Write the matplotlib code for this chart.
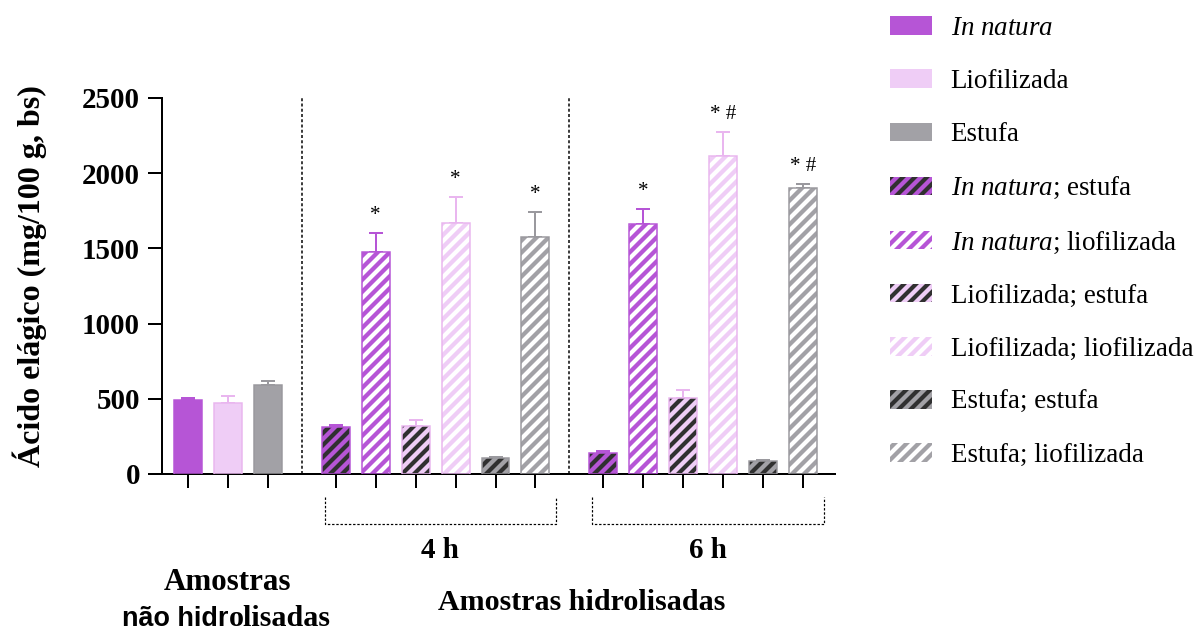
import matplotlib
matplotlib.use("Agg")
import matplotlib.pyplot as plt
from matplotlib.patches import Patch
import numpy as np

plt.rcParams["font.family"] = "Liberation Serif"
plt.rcParams["mathtext.fontset"] = "custom"
plt.rcParams["mathtext.rm"] = "Liberation Serif"
plt.rcParams["mathtext.it"] = "Liberation Serif:italic"
plt.rcParams["hatch.linewidth"] = 4.2

PURPLE = "#B655D6"
PINK = "#EFCDF6"
GRAY = "#A2A1A6"
DARK = "#303030"

# Amostras não hidrolisadas
raw_labels = [r"$\it{In\ natura}$", "Liofilizada", "Estufa"]
raw_mean = [492, 472, 592]
raw_sd = [15, 45, 26]

# Amostras hidrolisadas (secagem; hidrólise)
hyd_labels = [r"$\it{In\ natura}$; estufa", r"$\it{In\ natura}$; liofilizada",
              "Liofilizada; estufa", "Liofilizada; liofilizada",
              "Estufa; estufa", "Estufa; liofilizada"]
mean_4h = [315, 1478, 319, 1667, 108, 1574]
sd_4h = [13, 126, 38, 177, 7, 168]
sig_4h = ["", "*", "", "*", "", "*"]
mean_6h = [137, 1662, 503, 2114, 86, 1904]
sd_6h = [16, 100, 57, 162, 4, 26]
sig_6h = ["", "*", "", "* #", "", "* #"]
group_labels = ["4 h", "6 h"]

raw_face = [PURPLE, PINK, GRAY]
raw_edge = [PURPLE, "#E9B6EF", "#9A999E"]
hyd_face = [PURPLE, PURPLE, PINK, PINK, GRAY, GRAY]
hyd_edge = [PURPLE, PURPLE, "#E9B6EF", "#E9B6EF", "#9A999E", "#9A999E"]
hyd_hatch = [DARK, "white", DARK, "white", DARK, "white"]

W = 0.7
x_raw = np.arange(3)
x_4h = 3.7 + np.arange(6)
x_6h = 10.4 + np.arange(6)

fig = plt.figure(figsize=(1200 / 72, 632 / 72), dpi=72)
ax = fig.add_axes([162 / 1200, 1 - 474 / 632, (835 - 162) / 1200, 376 / 632])


def draw_bars(x, mean, sd, face, edge, hatch=None):
    for xi, m, s, fc, ec, hc in zip(x, mean, sd, face, edge, hatch or [None] * len(x)):
        ax.errorbar(xi, m, yerr=[[0], [s]], fmt="none", ecolor=ec, elinewidth=2,
                    capsize=7, capthick=2, zorder=1)
        if hc is None:
            ax.bar(xi, m, W, color=fc, lw=0, zorder=2)
        else:
            ax.bar(xi, m, W, facecolor=fc, edgecolor=hc, hatch="//", lw=0, zorder=2)
        ax.bar(xi, m, W, fill=False, edgecolor=ec, lw=1.5, zorder=3)


draw_bars(x_raw, raw_mean, raw_sd, raw_face, raw_edge)
draw_bars(x_4h, mean_4h, sd_4h, hyd_face, hyd_edge, hyd_hatch)
draw_bars(x_6h, mean_6h, sd_6h, hyd_face, hyd_edge, hyd_hatch)

for x, mean, sd, sig in [(x_4h, mean_4h, sd_4h, sig_4h), (x_6h, mean_6h, sd_6h, sig_6h)]:
    for xi, m, s, t in zip(x, mean, sd, sig):
        if t:
            ax.text(xi, m + s + 50, t, ha="center", va="bottom", fontsize=21, clip_on=False)

# separators between groups
for xv in [(x_raw[-1] + x_4h[0]) / 2, (x_4h[-1] + x_6h[0]) / 2]:
    ax.axvline(xv, ymin=0, ymax=1.004, color="black", lw=1.5, ls=(0, (2, 1.5)), clip_on=False)

ax.set_xlim(-0.65, 16.2)
ax.set_ylim(0, 2500)
ax.set_yticks(np.arange(0, 2501, 500))
ax.set_yticklabels([str(v) for v in range(0, 2501, 500)], fontsize=29, fontweight="bold")
ax.set_xticks(np.concatenate([x_raw, x_4h, x_6h]))
ax.set_xticklabels([])
ax.tick_params(axis="both", direction="out", length=14, width=2, color="black")
ax.tick_params(axis="y", pad=8)
for side in ["top", "right"]:
    ax.spines[side].set_visible(False)
for side in ["left", "bottom"]:
    ax.spines[side].set_linewidth(2)

# dashed brackets under the hydrolysed groups
tr = ax.get_xaxis_transform()
y_top, y_bot = -23 / 376, -50 / 376
for x, lab in zip([x_4h, x_6h], group_labels):
    x0, x1 = x[0] - 0.28, x[-1] + 0.52
    ax.plot([x0, x0, x1, x1], [y_top, y_bot, y_bot, y_top], transform=tr, color="black",
            lw=1.2, ls=(0, (2, 1.5)), clip_on=False)
    ax.text((x0 + x1) / 2, -77 / 376, lab, transform=tr, ha="center", va="center",
            fontsize=29, fontweight="bold")

ax.text(9.87, -129 / 376, "Amostras hidrolisadas", transform=tr, ha="center", va="center",
        fontsize=30, fontweight="bold")
ax.text(x_raw[1], -108 / 376, "Amostras", transform=tr, ha="center", va="center",
        fontsize=31, fontweight="bold")
t1 = ax.text(122 / 1200, 1 - 619 / 632, "não hidr", transform=fig.transFigure, ha="left",
             va="center", fontsize=27, fontweight="bold", family="Liberation Sans")
ax.annotate("olisadas", xy=(1, 0), xycoords=t1, ha="left", va="bottom",
            fontsize=30, fontweight="bold")

fig.text(30 / 1200, 1 - 276 / 632, "Ácido elágico (mg/100 g, bs)", rotation=90,
         ha="center", va="center", fontsize=32, fontweight="bold")

handles = [Patch(facecolor=c, lw=0) for c in raw_face]
handles += [Patch(facecolor=fc, edgecolor=hc, hatch="//", lw=0)
            for fc, hc in zip(hyd_face, hyd_hatch)]
fig.legend(handles, raw_labels + hyd_labels, loc="upper left",
           bbox_to_anchor=(890 / 1200, 1 - 16 / 632), frameon=False, fontsize=27,
           handlelength=1.55, handleheight=0.67, handletextpad=0.7, labelspacing=1.04,
           borderaxespad=0, borderpad=0)

fig.savefig("out.png", dpi=72)
